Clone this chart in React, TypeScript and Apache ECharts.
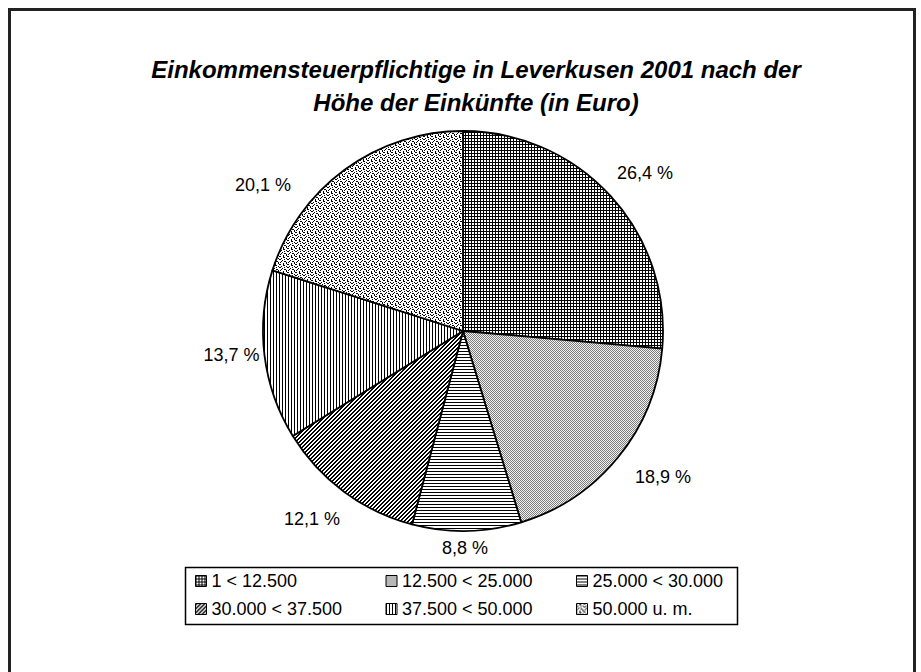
import React, { useEffect, useRef } from 'react';
import * as echarts from 'echarts';

// ---- data ----
const categories = [
  '1 < 12.500',
  '12.500 < 25.000',
  '25.000 < 30.000',
  '30.000 < 37.500',
  '37.500 < 50.000',
  '50.000 u. m.',
];
const shares = [26.4, 18.9, 8.8, 12.1, 13.7, 20.1];
const titleLines = [
  'Einkommensteuerpflichtige in Leverkusen 2001 nach der',
  'Höhe der Einkünfte (in Euro)',
];

// ---- layout tweaks (label nudges, px) ----
const labelNudge = [
  [-1, -16],
  [9, 14],
  [-25, 7],
  [2, 19],
  [5, -2],
  [-48, 24],
];

const FONT = '"Liberation Sans", Arial, sans-serif';

type PixelFn = (x: number, y: number) => string;

function makePattern(w: number, h: number, fn: PixelFn) {
  const c = document.createElement('canvas');
  c.width = w;
  c.height = h;
  const ctx = c.getContext('2d')!;
  for (let y = 0; y < h; y++) {
    for (let x = 0; x < w; x++) {
      ctx.fillStyle = fn(x, y);
      ctx.fillRect(x, y, 1, 1);
    }
  }
  return {
    image: c.toDataURL(),
    imageWidth: w,
    imageHeight: h,
    repeat: 'repeat',
  } as any;
}

const dotRows = [
  '#..#...#',
  '...##...',
  '.#....#.',
  '#...#..#',
  '..#.....',
  '.#..##..',
  '#.....#.',
  '...#..#.',
];

function buildPatterns() {
  return [
    makePattern(3, 3, (x, y) => (x % 3 === 0 || y % 3 === 0 ? '#000' : '#fff')),
    makePattern(2, 2, (x, y) => ((x + y) % 2 === 0 ? '#7c7c7c' : '#f2f2f2')),
    makePattern(3, 3, (x, y) => (y % 3 === 0 ? '#000' : '#fff')),
    makePattern(4, 4, (x, y) => ((x + y) % 4 < 2 ? '#000' : '#fff')),
    makePattern(3, 3, (x, y) => (x % 3 === 0 ? '#000' : '#fff')),
    makePattern(8, 8, (x, y) => (dotRows[y][x] === '#' ? '#000' : '#fff')),
  ];
}

export default function App() {
  const ref = useRef<HTMLDivElement>(null);

  useEffect(() => {
    document.body.style.margin = '0';
    if (!ref.current) return;
    const chart = echarts.init(ref.current, null, { renderer: 'svg' });
    const patterns = buildPatterns();

    const titleStyle = {
      fontFamily: FONT,
      fontSize: 24,
      fontWeight: 'bold',
      fontStyle: 'italic',
      fill: '#000',
      align: 'center',
      verticalAlign: 'middle',
    };

    chart.setOption({
      animation: false,
      backgroundColor: '#fff',
      graphic: [
        {
          type: 'rect',
          shape: { x: 9.5, y: 9.5, width: 905, height: 720 },
          style: { fill: 'none', stroke: '#222', lineWidth: 3 },
          silent: true,
        },
        {
          type: 'rect',
          shape: { x: 185.5, y: 567.5, width: 552, height: 57 },
          style: { fill: 'none', stroke: '#000', lineWidth: 1.5 },
          silent: true,
        },
        { type: 'text', x: 476, y: 69, style: { ...titleStyle, text: titleLines[0] } },
        { type: 'text', x: 476, y: 102, style: { ...titleStyle, text: titleLines[1] } },
      ],
      legend: {
        left: 195,
        top: 572,
        width: 600,
        padding: 0,
        orient: 'horizontal',
        itemWidth: 11,
        itemHeight: 11,
        itemGap: 10,
        icon: 'rect',
        selectedMode: false,
        itemStyle: { borderColor: '#000', borderWidth: 1 },
        formatter: (name: string) => '{a|' + name + '}',
        textStyle: {
          fontFamily: FONT,
          fontSize: 18,
          color: '#000',
          rich: { a: { width: 164, lineHeight: 18, fontSize: 18, fontFamily: FONT, color: '#000' } },
        },
        data: categories,
      },
      series: [
        {
          type: 'pie',
          center: [463, 331],
          radius: 200,
          startAngle: 90,
          clockwise: true,
          avoidLabelOverlap: false,
          silent: true,
          emphasis: { disabled: true },
          itemStyle: { borderColor: '#000', borderWidth: 1.8 },
          label: {
            show: true,
            position: 'outside',
            fontFamily: FONT,
            fontSize: 18,
            color: '#000',
            distanceToLabelLine: 0,
            formatter: (p: any) => p.value.toFixed(1).replace('.', ',') + ' %',
          },
          labelLine: { show: false, length: 10, length2: 0 },
          labelLayout: (p: any) => ({
            dx: labelNudge[p.dataIndex][0],
            dy: labelNudge[p.dataIndex][1],
          }),
          data: categories.map((name, i) => ({
            name,
            value: shares[i],
            itemStyle: { color: patterns[i] },
          })),
        },
      ],
    });

    return () => chart.dispose();
  }, []);

  return <div ref={ref} style={{ width: 921, height: 672, overflow: 'hidden' }} />;
}
